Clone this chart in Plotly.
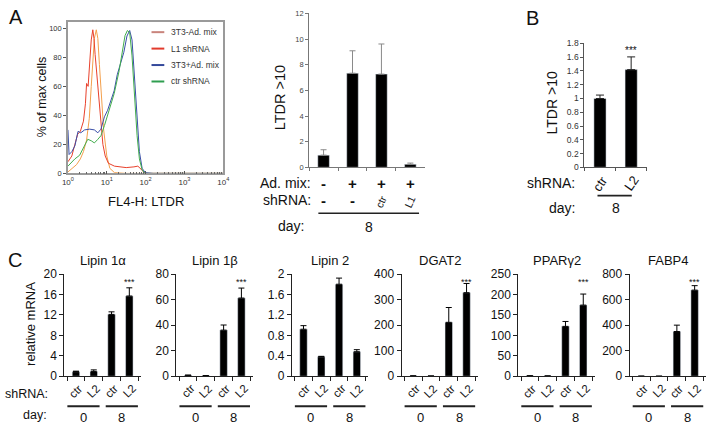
import plotly.graph_objects as go

W, H = 713, 430
def fx(px): return px / W
def fy(py): return 1 - py / H

FONT = "Liberation Sans, Arial, sans-serif"

# ---------------- data ----------------
# Panel A histogram (FL4-H intensity vs % of max cells)
hist_names = ["3T3-Ad. mix", "L1 shRNA", "3T3+Ad. mix", "ctr shRNA"]
hist_line_colors = ["#f3a04c", "#e8412c", "#3a4fa8", "#42ad4c"]
hist_legend_colors = ["#c9847c", "#e23a2c", "#34499b", "#2f9e50"]

x_3t3_minus = [1, 1.26, 1.66, 2.09, 2.51, 3.02, 3.55, 3.98, 4.37, 4.79, 5.37, 5.89,
               6.46, 7.24, 8.32, 10, 12.0, 15.8, 31.6, 10000]
y_3t3_minus = [1, 3, 6, 10, 15, 23, 38, 60, 80, 93, 99, 93, 75, 52, 30, 12, 3.5,
               0.5, 0, 0]

x_l1 = [1, 1.26, 1.51, 1.78, 2.09, 2.51, 2.82, 3.02, 3.31, 3.63, 3.98, 4.37, 4.68,
        5.01, 5.5, 6.03, 6.92, 7.94, 9.12, 11.0, 15.8, 31.6, 50.1, 63.1, 75.9,
        95.5, 316, 10000]
y_l1 = [8, 12, 20, 27, 29, 36, 48, 62, 60, 78, 92, 99, 93, 82, 70, 55, 35, 20, 12,
        7, 5, 4, 4.5, 5, 3, 0, 0, 0]

x_3t3_plus = [1, 1.07, 1.26, 1.51, 1.82, 2.14, 2.69, 3.63, 4.79, 5.89, 7.08, 8.71,
              10.5, 12.9, 15.5, 18.6, 22.9, 27.5, 33.1, 38.9, 44.7, 52.5, 60.3,
              69.2, 81.3, 97.7, 158, 10000]
y_3t3_plus = [30, 13, 15, 19, 29, 28, 30, 30.5, 30, 28, 30.5, 39, 43.5, 50, 57, 68,
              77, 83.5, 94.7, 98.5, 92, 63.5, 35, 15, 3.5, 0.5, 0, 0]

x_ctr = [1, 1.51, 2.0, 2.69, 3.24, 3.98, 4.79, 5.89, 7.08, 8.71, 11.5, 15.5, 20.9,
         25.1, 29.5, 33.9, 38.9, 44.7, 52.5, 60.3, 69.2, 81.3, 95.5, 10000]
y_ctr = [5, 10, 12.5, 19, 23.5, 22.5, 21, 23.5, 26, 33, 43.5, 55, 71, 83.5, 95,
         98.5, 97, 81, 52.5, 26, 10, 2.5, 0, 0]

hist_x = [x_3t3_minus, x_l1, x_3t3_plus, x_ctr]
hist_y = [y_3t3_minus, y_l1, y_3t3_plus, y_ctr]
hist_yticks = [0, 20, 40, 60, 80, 100]
hist_xticks = [1, 10, 100, 1000, 10000]
hist_xticktext = ["10<sup>0</sup>", "10<sup>1</sup>", "10<sup>2</sup>",
                  "10<sup>3</sup>", "10<sup>4</sup>"]

# Panel A bars
a_cats = ["-/-", "+/-", "+/ctr", "+/L1"]
a_admix = ["-", "+", "+", "+"]
a_shrna = ["-", "-", "ctr", "L1"]
a_values = [0.95, 7.34, 7.27, 0.23]
a_err = [0.42, 1.75, 2.35, 0.10]

# Panel B bars
b_cats = ["ctr", "L2"]
b_values = [1.0, 1.42]
b_err = [0.05, 0.185]

# Panel C bars
c_cats = ["ctr 0", "L2 0", "ctr 8", "L2 8"]
c_shrna = ["ctr", "L2", "ctr", "L2"]
c_days = ["0", "8"]
genes = ["Lipin 1α", "Lipin 1β", "Lipin 2", "DGAT2", "PPARγ2", "FABP4"]
lipin1a = [0.9, 0.95, 12.1, 15.7]
lipin1a_err = [0.1, 0.3, 0.5, 1.6]
lipin1b = [0.8, 0.4, 36.1, 61.2]
lipin1b_err = [0.1, 0.1, 4.0, 7.8]
lipin2 = [0.92, 0.38, 1.80, 0.48]
lipin2_err = [0.07, 0.01, 0.12, 0.04]
dgat2 = [1.5, 1.0, 211, 327]
dgat2_err = [0.3, 0.2, 58, 36]
pparg2 = [1.0, 0.8, 122, 174]
pparg2_err = [0.2, 0.1, 12, 27]
fabp4 = [1.0, 0.8, 350, 674]
fabp4_err = [0.2, 0.1, 50, 35]
c_values = [lipin1a, lipin1b, lipin2, dgat2, pparg2, fabp4]
c_errs = [lipin1a_err, lipin1b_err, lipin2_err, dgat2_err, pparg2_err, fabp4_err]
c_stars = [True, True, False, True, True, True]
c_ymax = [20, 80, 2, 400, 250, 800]
c_dtick = [4, 20, 0.4, 100, 50, 200]

# ---------------- figure ----------------
fig = go.Figure()
annotations = []
shapes = []

def ann(text, x, y, size=12, xref="paper", yref="paper", xanchor="center",
        yanchor="middle", angle=0, color="#111"):
    annotations.append(dict(text=text, x=x, y=y, xref=xref, yref=yref,
                            xanchor=xanchor, yanchor=yanchor, textangle=angle,
                            showarrow=False,
                            font=dict(family=FONT, size=size, color=color)))

# --- histogram ---
for name, xs, ys, col in zip(hist_names, hist_x, hist_y, hist_line_colors):
    fig.add_trace(go.Scatter(x=xs, y=ys, mode="lines", name=name,
                             line=dict(color=col, width=1), showlegend=False,
                             xaxis="x", yaxis="y"))
minor_vals = [m * 10 ** e for e in range(4) for m in range(2, 10)]
layout = dict(
    width=W, height=H, margin=dict(l=0, r=0, t=0, b=0),
    paper_bgcolor="white", plot_bgcolor="white", showlegend=False,
    font=dict(family=FONT, color="#111"),
    xaxis=dict(domain=[fx(63), fx(221)], type="log", range=[0, 4],
               tickvals=hist_xticks, ticktext=hist_xticktext,
               tickfont=dict(size=8, color="#333"), ticks="inside", ticklen=3,
               tickcolor="#555", showline=True, linecolor="#9a9a9a", linewidth=1.5,
               mirror=True, showgrid=False, zeroline=False,
               minor=dict(tickvals=minor_vals, ticks="inside", ticklen=2,
                          tickcolor="#666", showgrid=False)),
    yaxis=dict(domain=[fy(172), fy(15)], range=[0, 104.7], tickvals=hist_yticks,
               tickfont=dict(size=7.5, color="#333"), ticks="outside", ticklen=3,
               tickcolor="#555", showline=True, linecolor="#9a9a9a", linewidth=1.5,
               mirror=True, showgrid=False, zeroline=False),
)
# manual legend
for i, (name, col) in enumerate(zip(hist_names, hist_legend_colors)):
    py = 26 + 17 * i
    shapes.append(dict(type="line", xref="paper", yref="paper", x0=fx(148),
                       x1=fx(161), y0=fy(py), y1=fy(py),
                       line=dict(color=col, width=2)))
    ann(name, fx(166), fy(py), size=8.5, xanchor="left", color="#333")
ann("% of max cells", fx(37), fy(93), size=12.5, angle=-90)
ann("FL4-H: LTDR", fx(142), fy(201), size=13)

# --- panel A bars ---
fig.add_trace(go.Bar(x=a_cats, y=a_values, width=0.4, marker=dict(color="black"),
                     error_y=dict(type="data", array=a_err,
                                  arrayminus=[0] * len(a_err), symmetric=False,
                                  color="#8a8a8a", thickness=1, width=3),
                     xaxis="x2", yaxis="y2", showlegend=False))
layout["xaxis2"] = dict(domain=[fx(308.3), fx(426)], type="category",
                        categoryorder="array", categoryarray=a_cats,
                        showticklabels=False, ticks="outside", tickson="boundaries",
                        ticklen=3, tickcolor="#777", showline=True,
                        linecolor="#777", linewidth=1, showgrid=False,
                        anchor="y2")
layout["yaxis2"] = dict(domain=[fy(165.7), fy(6.7)], range=[0, 12], dtick=2,
                        tickfont=dict(size=7.5, color="#444"), ticks="outside",
                        ticklen=3, tickcolor="#777", showline=True,
                        linecolor="#777", linewidth=1, showgrid=False,
                        zeroline=False, anchor="x2")
ann("LTDR >10", fx(279), fy(94), size=14.5, angle=-90)
ann("Ad. mix:", fx(312), fy(182), size=14, xanchor="right")
ann("shRNA:", fx(312), fy(200), size=14, xanchor="right")
for cat, am, sh in zip(a_cats, a_admix, a_shrna):
    ann("<b>%s</b>" % am, cat, fy(182), size=15, xref="x2")
    if sh == "-":
        ann("<b>-</b>", cat, fy(200), size=15, xref="x2")
    else:
        ann(sh, cat, fy(201), size=10.5, xref="x2", angle=-65)
shapes.append(dict(type="line", xref="x2 domain", yref="paper", x0=0.08, x1=0.95,
                   y0=fy(213.3), y1=fy(213.3), line=dict(color="#222", width=1.5)))
ann("day:", fx(305), fy(226), size=14, xanchor="right")
ann("8", 0.515, fy(227), size=14, xref="x2 domain")

# --- panel B ---
fig.add_trace(go.Bar(x=b_cats, y=b_values, width=0.39, marker=dict(color="black"),
                     error_y=dict(type="data", array=b_err,
                                  arrayminus=[0] * len(b_err), symmetric=False,
                                  color="#222", thickness=1, width=4),
                     xaxis="x3", yaxis="y3", showlegend=False))
layout["xaxis3"] = dict(domain=[fx(588.3), fx(651.7)], type="category",
                        categoryorder="array", categoryarray=b_cats,
                        showticklabels=False, ticks="outside", tickson="boundaries",
                        ticklen=3, tickcolor="#555", showline=True,
                        linecolor="#555", linewidth=1, showgrid=False, anchor="y3")
layout["yaxis3"] = dict(domain=[fy(165.7), fy(37.7)], range=[0, 1.8], dtick=0.2,
                        tickfont=dict(size=8.5, color="#333"), ticks="outside",
                        ticklen=3, tickcolor="#555", showline=True,
                        linecolor="#555", linewidth=1, showgrid=False,
                        zeroline=False, anchor="x3")
ann("LTDR >10", fx(555), fy(99), size=14, angle=-90)
ann("***", "L2", fy(45), size=10, xref="x3")
ann("shRNA:", fx(581), fy(182), size=14, xanchor="right")
for cat in b_cats:
    ann(cat, cat, fy(182), size=13, xref="x3", angle=-55)
shapes.append(dict(type="line", xref="x3 domain", yref="paper", x0=0.21, x1=0.76,
                   y0=fy(195), y1=fy(195), line=dict(color="#222", width=1.8)))
ann("day:", fx(581), fy(208), size=14, xanchor="right")
ann("8", 0.5, fy(208), size=14, xref="x3 domain")

# --- panel C ---
c_left = [59.3, 173.3, 290.7, 402.3, 521, 634.3]
c_width = 78
for i, (gene, vals, errs) in enumerate(zip(genes, c_values, c_errs)):
    n = i + 4
    xa, ya = "x%d" % n, "y%d" % n
    fig.add_trace(go.Bar(x=c_cats, y=vals, width=0.42, marker=dict(color="black"),
                         error_y=dict(type="data", array=errs,
                                      arrayminus=[0] * len(errs), symmetric=False,
                                      color="black", thickness=1, width=3),
                         xaxis=xa, yaxis=ya, showlegend=False))
    layout["xaxis%d" % n] = dict(domain=[fx(c_left[i]), min(1, fx(c_left[i] + c_width))],
                                 type="category", categoryorder="array",
                                 categoryarray=c_cats, showticklabels=False,
                                 ticks="outside", tickson="boundaries", ticklen=4,
                                 tickcolor="#222", showline=True, linecolor="#222",
                                 linewidth=1, showgrid=False, anchor=ya)
    layout["yaxis%d" % n] = dict(domain=[fy(381.7), fy(276)], range=[0, c_ymax[i]],
                                 dtick=c_dtick[i], tickfont=dict(size=12, color="#111"),
                                 ticks="outside", ticklen=4, tickcolor="#222",
                                 showline=True, linecolor="#222", linewidth=1,
                                 showgrid=False, zeroline=False, anchor=xa)
    ann(gene, 0.5, fy(262), size=13, xref=xa + " domain")
    if c_stars[i]:
        ann("***", c_cats[3], fy(284), size=9, xref=xa)
    for cat, sh in zip(c_cats, c_shrna):
        ann(sh, cat, fy(397), size=11.5, xref=xa, angle=-45)
    for j, (x0, x1) in enumerate([(0.04, 0.46), (0.54, 0.96)]):
        shapes.append(dict(type="line", xref=xa + " domain", yref="paper",
                           x0=x0, x1=x1, y0=fy(412.7), y1=fy(412.7),
                           line=dict(color="#222", width=1.8)))
        ann(c_days[j], (x0 + x1) / 2, fy(424), size=13, xref=xa + " domain")
ann("relative mRNA", fx(25), fy(328), size=13, angle=-90)
ann("shRNA:", fx(45), fy(400), size=12.5, xanchor="right")
ann("day:", fx(44), fy(422), size=12.5, xanchor="right")

# panel letters
ann("A", fx(1), fy(10), size=20, xanchor="left")
ann("B", fx(527), fy(11), size=20, xanchor="left")
ann("C", fx(0), fy(261), size=20, xanchor="left")

layout["annotations"] = annotations
layout["shapes"] = shapes
fig.update_layout(**layout)
fig.write_html("out.html", config={"displayModeBar": False},
               post_script="document.body.style.margin='0';"
                           "document.body.style.padding='0';")
